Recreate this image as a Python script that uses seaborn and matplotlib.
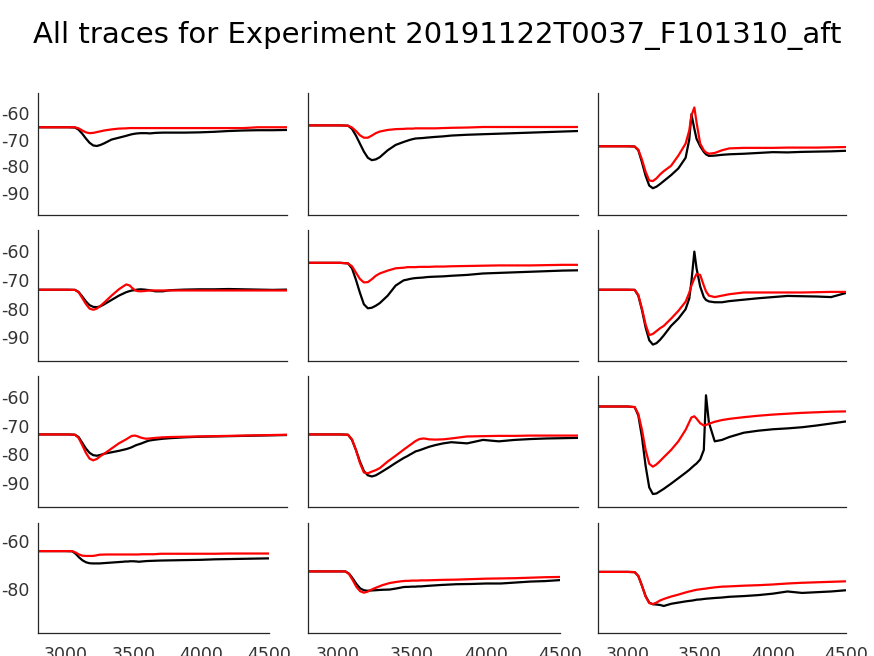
import numpy as np
import pandas as pd
import matplotlib
matplotlib.use("Agg")
import matplotlib.pyplot as plt
import seaborn as sns

# ---------------- data ----------------
t_ms = [2800, 2900, 3000, 3050, 3075, 3100, 3125, 3150, 3175, 3200, 3225, 3250,
        3300, 3350, 3400, 3425, 3440, 3460, 3475, 3500, 3525, 3540, 3560, 3600,
        3650, 3700, 3800, 3900, 4000, 4100, 4200, 4300, 4400, 4500]

exp_11 = [-65.4, -65.4, -65.4, -65.5, -66.3, -67.8, -69.6, -71.2, -72.2, -72.4, -72.0, -71.4,
          -70.0, -69.3, -68.6, -68.2, -68.0, -67.8, -67.7, -67.6, -67.6, -67.6, -67.7, -67.5,
          -67.4, -67.4, -67.4, -67.3, -67.1, -66.8, -66.6, -66.5, -66.5, -66.4]
mod_11 = [-65.4, -65.4, -65.4, -65.4, -65.8, -66.6, -67.3, -67.6, -67.5, -67.2, -66.9, -66.6,
          -66.2, -65.9, -65.8, -65.7, -65.7, -65.7, -65.7, -65.7, -65.7, -65.7, -65.7, -65.7,
          -65.7, -65.7, -65.7, -65.7, -65.7, -65.7, -65.7, -65.4, -65.4, -65.4]

exp_12 = [-64.7, -64.7, -64.7, -64.8, -66.0, -68.5, -71.5, -74.5, -76.8, -77.7, -77.4, -76.6,
          -74.0, -72.0, -70.9, -70.4, -70.1, -69.8, -69.6, -69.5, -69.4, -69.3, -69.2, -69.0,
          -68.8, -68.5, -68.2, -68.0, -67.8, -67.6, -67.4, -67.2, -67.0, -66.8]
mod_12 = [-64.7, -64.7, -64.7, -64.8, -65.5, -66.8, -68.4, -69.3, -69.3, -68.5, -67.6, -67.0,
          -66.4, -66.1, -66.0, -65.9, -65.9, -65.9, -65.8, -65.8, -65.8, -65.8, -65.8, -65.8,
          -65.7, -65.6, -65.5, -65.3, -65.3, -65.3, -65.3, -65.3, -65.3, -65.3]

exp_13 = [-72.5, -72.5, -72.5, -72.6, -74.0, -78.5, -83.5, -87.2, -88.2, -87.6, -86.6, -85.5,
          -83.3, -80.8, -76.8, -70.0, -60.5, -66.0, -69.7, -72.5, -74.6, -75.5, -76.1, -76.0,
          -75.7, -75.5, -75.3, -75.0, -74.7, -74.8, -74.6, -74.5, -74.4, -74.2]
mod_13 = [-72.5, -72.5, -72.5, -72.6, -73.8, -77.5, -82.0, -85.3, -85.5, -84.5, -83.0, -81.8,
          -79.8, -76.0, -71.5, -66.6, -61.0, -58.0, -63.5, -71.5, -74.0, -74.8, -75.3, -75.0,
          -74.0, -73.3, -73.1, -73.1, -73.1, -73.0, -73.0, -73.0, -72.9, -72.8]

exp_21 = [-73.45, -73.45, -73.45, -73.5, -74.2, -75.8, -77.5, -78.8, -79.4, -79.5, -79.2, -78.5,
          -77.0, -75.5, -74.3, -73.9, -73.7, -73.6, -73.4, -73.3, -73.4, -73.5, -73.6, -74.0,
          -74.0, -73.6, -73.4, -73.3, -73.3, -73.2, -73.3, -73.4, -73.5, -73.4]
mod_21 = [-73.45, -73.45, -73.45, -73.5, -74.3, -76.3, -78.4, -80.0, -80.4, -80.0, -79.0, -77.9,
          -75.5, -73.3, -71.6, -72.0, -72.8, -73.6, -73.9, -74.0, -73.9, -73.8, -73.7, -73.7,
          -73.7, -73.7, -73.7, -73.7, -73.7, -73.7, -73.7, -73.7, -73.7, -73.7]

exp_22 = [-64.1, -64.1, -64.1, -64.3, -66.0, -70.0, -74.5, -78.5, -79.9, -79.7, -79.0, -78.1,
          -75.5, -72.0, -70.2, -69.9, -69.7, -69.5, -69.4, -69.3, -69.2, -69.1, -69.0, -68.9,
          -68.8, -68.6, -68.3, -67.8, -67.6, -67.4, -67.2, -67.0, -66.8, -66.7]
mod_22 = [-64.1, -64.1, -64.1, -64.3, -65.3, -67.5, -69.7, -70.9, -70.8, -69.8, -68.6, -67.8,
          -66.8, -66.0, -65.8, -65.6, -65.6, -65.6, -65.6, -65.5, -65.5, -65.5, -65.5, -65.4,
          -65.4, -65.3, -65.2, -65.1, -65.0, -65.0, -65.0, -64.9, -64.8, -64.8]

exp_23 = [-73.45, -73.45, -73.45, -73.5, -75.5, -80.5, -86.5, -91.0, -92.5, -92.0, -90.8, -89.3,
          -86.0, -83.5, -80.2, -76.5, -70.5, -60.2, -66.0, -72.3, -76.0, -77.0, -77.5, -77.8,
          -77.8, -77.4, -76.9, -76.4, -76.0, -75.6, -75.7, -75.8, -76.0, -74.6]
mod_23 = [-73.45, -73.45, -73.45, -73.5, -75.3, -80.0, -85.5, -89.2, -88.8, -87.8, -86.8, -86.0,
          -83.5, -80.8, -77.6, -74.5, -72.0, -69.5, -68.0, -68.3, -72.0, -74.0, -75.5, -76.0,
          -75.5, -75.0, -74.4, -74.4, -74.4, -74.4, -74.4, -74.3, -74.2, -74.2]

exp_31 = [-73.1, -73.1, -73.1, -73.2, -74.0, -76.0, -78.0, -79.5, -80.3, -80.5, -80.2, -79.8,
          -79.3, -78.8, -78.2, -77.8, -77.5, -77.0, -76.7, -76.3, -75.8, -75.5, -75.2, -74.9,
          -74.6, -74.4, -74.1, -73.9, -73.8, -73.7, -73.6, -73.5, -73.4, -73.3]
mod_31 = [-73.1, -73.1, -73.1, -73.2, -74.3, -76.8, -79.5, -81.5, -82.1, -81.6, -80.6, -79.8,
          -78.0, -76.2, -74.8, -74.0, -73.6, -73.5, -73.7, -74.2, -74.5, -74.6, -74.5, -74.3,
          -74.1, -74.0, -73.9, -73.8, -73.7, -73.6, -73.5, -73.4, -73.3, -73.2]

exp_32 = [-73.1, -73.1, -73.1, -73.2, -75.0, -78.5, -82.5, -85.8, -87.3, -87.7, -87.3, -86.5,
          -84.8, -83.0, -81.3, -80.6, -80.1, -79.5, -79.0, -78.6, -78.1, -77.8, -77.4, -76.8,
          -76.2, -75.8, -76.2, -75.0, -75.5, -75.0, -74.7, -74.5, -74.4, -74.3]
mod_32 = [-73.1, -73.1, -73.1, -73.2, -74.8, -78.5, -83.0, -86.3, -86.6, -86.0, -85.5, -84.8,
          -82.5, -80.5, -78.4, -77.4, -76.8, -76.0, -75.4, -74.7, -74.5, -74.6, -74.8, -74.9,
          -74.8, -74.5, -73.8, -73.7, -73.6, -73.6, -73.5, -73.5, -73.5, -73.5]

exp_33 = [-63.4, -63.4, -63.4, -63.6, -66.5, -74.0, -84.0, -91.5, -93.8, -93.6, -92.8, -92.0,
          -90.2, -88.3, -86.4, -85.4, -84.7, -83.8, -83.2, -81.8, -78.5, -59.5, -69.0, -75.5,
          -75.0, -74.0, -72.5, -71.8, -71.3, -71.0, -70.6, -70.0, -69.3, -68.6]
mod_33 = [-63.4, -63.4, -63.4, -63.6, -66.0, -71.5, -78.5, -83.3, -84.3, -83.5, -82.3, -81.0,
          -78.5, -75.5, -71.5, -68.8, -67.2, -66.8, -67.6, -69.2, -70.0, -69.8, -69.4, -68.7,
          -68.1, -67.7, -67.1, -66.6, -66.2, -65.9, -65.6, -65.4, -65.2, -65.1]

exp_41 = [-64.2, -64.2, -64.2, -64.3, -65.3, -66.8, -68.0, -68.8, -69.2, -69.3, -69.3, -69.3,
          -69.1, -68.9, -68.7, -68.6, -68.5, -68.5, -68.4, -68.4, -68.5, -68.6, -68.5, -68.3,
          -68.2, -68.1, -68.0, -67.9, -67.8, -67.6, -67.5, -67.4, -67.3, -67.2]
mod_41 = [-64.2, -64.2, -64.2, -64.2, -64.8, -65.6, -66.1, -66.2, -66.2, -66.2, -66.0, -65.7,
          -65.6, -65.6, -65.6, -65.6, -65.6, -65.6, -65.6, -65.6, -65.6, -65.6, -65.5, -65.5,
          -65.5, -65.3, -65.3, -65.3, -65.3, -65.3, -65.2, -65.2, -65.2, -65.2]

exp_42 = [-72.6, -72.6, -72.6, -72.6, -73.5, -75.5, -77.8, -79.6, -80.4, -80.6, -80.5, -80.4,
          -80.2, -80.1, -79.6, -79.3, -79.1, -79.0, -79.0, -78.9, -78.9, -78.8, -78.8, -78.6,
          -78.4, -78.2, -77.9, -77.8, -77.6, -77.6, -77.2, -76.8, -76.6, -76.2]
mod_42 = [-72.6, -72.6, -72.6, -72.6, -73.7, -76.2, -79.0, -80.8, -81.4, -81.0, -80.2, -79.5,
          -78.3, -77.4, -76.9, -76.7, -76.6, -76.5, -76.5, -76.4, -76.4, -76.4, -76.3, -76.3,
          -76.2, -76.1, -76.0, -75.8, -75.6, -75.5, -75.4, -75.2, -75.0, -74.9]

exp_43 = [-72.8, -72.8, -72.8, -72.9, -74.5, -78.5, -82.8, -85.5, -86.2, -86.3, -86.5, -86.9,
          -86.0, -85.5, -85.0, -84.8, -84.7, -84.5, -84.3, -84.2, -84.0, -83.9, -83.8, -83.6,
          -83.4, -83.1, -82.8, -82.4, -81.8, -80.9, -81.5, -81.2, -80.9, -80.4]
mod_43 = [-72.8, -72.8, -72.8, -72.9, -74.5, -78.5, -83.0, -85.7, -86.1, -85.5, -84.6, -84.0,
          -83.0, -82.2, -81.3, -80.9, -80.7, -80.4, -80.2, -80.0, -79.8, -79.7, -79.5, -79.2,
          -78.9, -78.8, -78.5, -78.3, -78.0, -77.6, -77.3, -77.1, -76.9, -76.7]

experiment = [[exp_11, exp_12, exp_13], [exp_21, exp_22, exp_23],
              [exp_31, exp_32, exp_33], [exp_41, exp_42, exp_43]]
model = [[mod_11, mod_12, mod_13], [mod_21, mod_22, mod_23],
         [mod_31, mod_32, mod_33], [mod_41, mod_42, mod_43]]

x_ticks = [3000, 3500, 4000, 4500]
y_ticks_tall = [-60, -70, -80, -90]
y_ticks_short = [-60, -80]
title = "All traces for Experiment 20191122T0037_F101310_aft"

# ---------------- style ----------------
sns.set_style("white")
plt.rcParams["font.family"] = ["DejaVu Sans"]
plt.rcParams["axes.unicode_minus"] = False

W, H = 874, 656
fig = plt.figure(figsize=(W / 100, H / 100), dpi=100)

# pixel boxes (left, right) per column, (top, bottom) per row
col_px = [(38.3, 287.3), (308.3, 578.3), (598.3, 845.7)]
col_px_last = [(38.3, 269.3), (308.3, 560.0), (598.3, 845.7)]
row_px = [(93.3, 215.0), (230.0, 361.0), (375.7, 506.7), (523.3, 633.3)]

txt = "#333333"
for r in range(4):
    for c in range(3):
        l, rr = (col_px_last if r == 3 else col_px)[c]
        t, b = row_px[r]
        ax = fig.add_axes([l / W, 1 - b / H, (rr - l) / W, (b - t) / H])
        df = pd.DataFrame({"t": t_ms, "exp": experiment[r][c], "mod": model[r][c]})
        sns.lineplot(data=df, x="t", y="exp", color="black", linewidth=1.6, ax=ax)
        sns.lineplot(data=df, x="t", y="mod", color="#ff0000", linewidth=1.6, ax=ax)
        ax.set_xlim(2800, 4500)
        ax.set_ylim(-98.2, -52.7)
        ax.set_xticks(x_ticks)
        ax.set_yticks(y_ticks_short if r == 3 else y_ticks_tall)
        ax.set_xlabel("")
        ax.set_ylabel("")
        for s in ["top", "right"]:
            ax.spines[s].set_visible(False)
        for s in ["left", "bottom"]:
            ax.spines[s].set_color("#262626")
            ax.spines[s].set_linewidth(0.9)
        ax.tick_params(direction="in", length=3, width=0.9, color="#262626",
                       labelsize=12.5, labelcolor=txt)
        ax.tick_params(axis="x", pad=9)
        ax.tick_params(axis="y", pad=6)
        if c != 0:
            ax.tick_params(axis="y", labelleft=False)
        if r != 3:
            ax.tick_params(axis="x", labelbottom=False)

fig.text(0.5, 1 - 35 / H, title, ha="center", va="center", fontsize=21, color="black")

fig.savefig("out.png", dpi=100)
